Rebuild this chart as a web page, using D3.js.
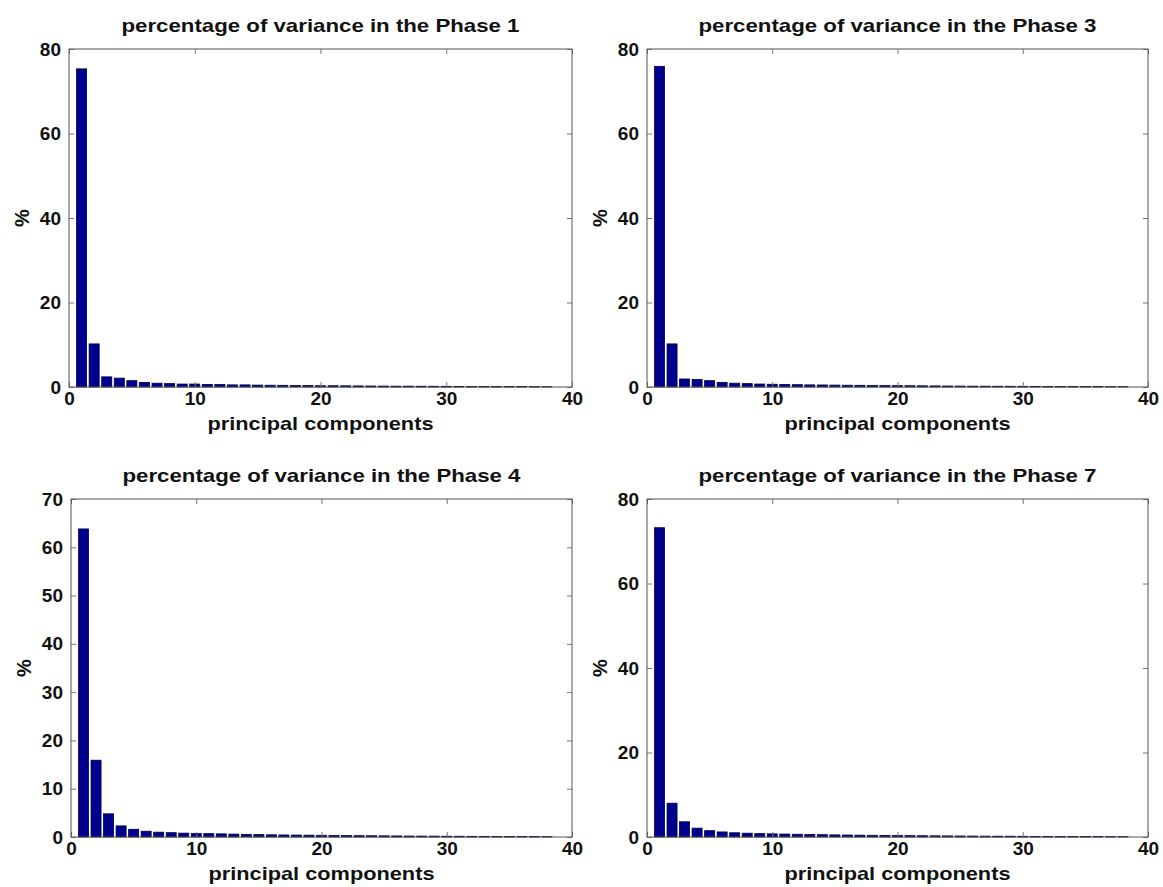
<!DOCTYPE html>
<html><head><meta charset="utf-8">
<script src="https://cdn.jsdelivr.net/npm/d3@7"></script>
<style>
html,body{margin:0;padding:0;background:#fff;}
svg text{font-family:"Liberation Sans",Arial,sans-serif;font-weight:bold;fill:#111;}
</style></head>
<body>
<svg id="chart" width="1163" height="887"></svg>
<script>
// Data (percentage of variance per principal component, components 1..38)
const phase1 = [75.3, 10.2, 2.4, 2.1, 1.5, 1.1, 0.9, 0.8, 0.7, 0.7, 0.6, 0.6, 0.5, 0.5, 0.45, 0.42, 0.4, 0.36, 0.34, 0.3, 0.3, 0.28, 0.26, 0.24, 0.22, 0.2, 0.2, 0.18, 0.17, 0.16, 0.15, 0.14, 0.13, 0.12, 0.11, 0.1, 0.09, 0.08];
const phase3 = [75.9, 10.2, 1.9, 1.8, 1.5, 1.1, 0.9, 0.8, 0.7, 0.65, 0.6, 0.55, 0.5, 0.48, 0.45, 0.42, 0.4, 0.36, 0.34, 0.32, 0.3, 0.28, 0.26, 0.24, 0.22, 0.2, 0.19, 0.18, 0.17, 0.16, 0.15, 0.14, 0.13, 0.12, 0.11, 0.1, 0.09, 0.08];
const phase4 = [63.8, 15.9, 4.8, 2.3, 1.6, 1.2, 1.0, 0.9, 0.8, 0.75, 0.7, 0.65, 0.6, 0.55, 0.5, 0.45, 0.42, 0.4, 0.38, 0.35, 0.32, 0.3, 0.28, 0.26, 0.24, 0.22, 0.2, 0.19, 0.18, 0.16, 0.15, 0.14, 0.13, 0.12, 0.11, 0.1, 0.09, 0.08];
const phase7 = [73.2, 8.0, 3.6, 2.1, 1.5, 1.2, 1.0, 0.9, 0.8, 0.75, 0.7, 0.65, 0.6, 0.55, 0.5, 0.47, 0.44, 0.4, 0.38, 0.35, 0.32, 0.3, 0.28, 0.26, 0.24, 0.22, 0.2, 0.19, 0.18, 0.16, 0.15, 0.14, 0.13, 0.12, 0.11, 0.1, 0.09, 0.08];

const titles = ["percentage of variance in the Phase 1", "percentage of variance in the Phase 3",
                "percentage of variance in the Phase 4", "percentage of variance in the Phase 7"];
const xTicks = [0, 10, 20, 30, 40];
const yTicks1 = [0, 20, 40, 60, 80];
const yTicks3 = [0, 20, 40, 60, 80];
const yTicks4 = [0, 10, 20, 30, 40, 50, 60, 70];
const yTicks7 = [0, 20, 40, 60, 80];
const yMax = [80, 80, 70, 80];
const xLabel = "principal components";
const yLabel = "%";

const panels = [
  {data: phase1, title: titles[0], yTicks: yTicks1, ymax: yMax[0], box: {l: 69, r: 572, t: 49, b: 387}},
  {data: phase3, title: titles[1], yTicks: yTicks3, ymax: yMax[1], box: {l: 647, r: 1148, t: 49, b: 387}},
  {data: phase4, title: titles[2], yTicks: yTicks4, ymax: yMax[2], box: {l: 71, r: 572, t: 499, b: 837}},
  {data: phase7, title: titles[3], yTicks: yTicks7, ymax: yMax[3], box: {l: 647, r: 1148, t: 499, b: 837}}
];

const svg = d3.select("#chart");
const barColor = "#000090";
const frameColor = "#555";

panels.forEach(p => {
  const B = p.box;
  const x = d3.scaleLinear().domain([0, 40]).range([B.l, B.r]);
  const y = d3.scaleLinear().domain([0, p.ymax]).range([B.b, B.t]);
  const g = svg.append("g");

  // bars
  const bw = x(0.8) - x(0);
  g.selectAll("rect.bar").data(p.data).enter().append("rect")
    .attr("class", "bar")
    .attr("x", (d, i) => x(i + 1) - bw / 2)
    .attr("width", bw)
    .attr("y", d => y(d))
    .attr("height", d => y(0) - y(d))
    .attr("fill", barColor)
    .attr("stroke", "#000040")
    .attr("stroke-width", 0.8);

  // axes with inward ticks
  const ax = g.append("g").attr("transform", `translate(0,${B.b})`)
    .call(d3.axisBottom(x).tickValues(xTicks).tickFormat(d3.format("d")).tickSize(-5).tickPadding(5));
  const axTop = g.append("g").attr("transform", `translate(0,${B.t})`)
    .call(d3.axisTop(x).tickValues(xTicks).tickFormat("").tickSize(-5));
  const ay = g.append("g").attr("transform", `translate(${B.l},0)`)
    .call(d3.axisLeft(y).tickValues(p.yTicks).tickFormat(d3.format("d")).tickSize(-5).tickPadding(8));
  const ayR = g.append("g").attr("transform", `translate(${B.r},0)`)
    .call(d3.axisRight(y).tickValues(p.yTicks).tickFormat("").tickSize(-5));
  [ax, axTop, ay, ayR].forEach(a => {
    a.select(".domain").remove();
    a.selectAll(".tick line").attr("stroke", "#777");
  });
  ax.selectAll("text").attr("font-size", 19).attr("fill", "#111").attr("dy", "0.7em");
  ay.selectAll("text").attr("font-size", 19).attr("fill", "#111");

  // frame
  g.append("rect").attr("x", B.l).attr("y", B.t)
    .attr("width", B.r - B.l).attr("height", B.b - B.t)
    .attr("fill", "none").attr("stroke", frameColor).attr("stroke-width", 1);

  // title
  g.append("text").attr("x", (B.l + B.r) / 2).attr("y", B.t - 17)
    .attr("text-anchor", "middle").attr("font-size", 19)
    .attr("textLength", 398).attr("lengthAdjust", "spacingAndGlyphs")
    .text(p.title);

  // x label
  g.append("text").attr("x", (B.l + B.r) / 2).attr("y", B.b + 43)
    .attr("text-anchor", "middle").attr("font-size", 19)
    .attr("textLength", 226).attr("lengthAdjust", "spacingAndGlyphs")
    .text(xLabel);

  // y label
  const cy = (B.t + B.b) / 2;
  g.append("text").attr("transform", `translate(${B.l - 40},${cy}) rotate(-90)`)
    .attr("text-anchor", "middle").attr("font-size", 20)
    .text(yLabel);
});
</script>
</body></html>
